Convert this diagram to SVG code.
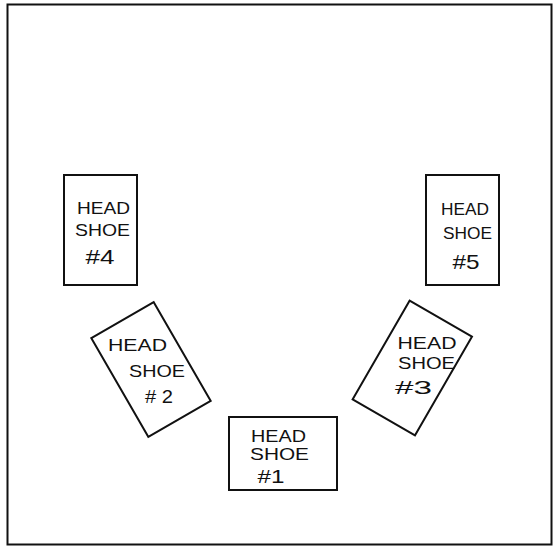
<svg xmlns="http://www.w3.org/2000/svg" width="556" height="550" viewBox="0 0 556 550">
<style>
.frame{fill:none;stroke:#111;stroke-width:2}
.box{fill:#fff;stroke:#111;stroke-width:2}
text{font-family:"Liberation Sans","DejaVu Sans",sans-serif;font-size:17px;fill:#111;text-anchor:middle}
.num{font-size:18px}
.big{font-size:21px}
</style>
<rect width="556" height="550" fill="#fff"/>
<rect class="frame" x="7.5" y="4.5" width="544" height="540"/>
<g id="shoe4">
<rect class="box" x="64" y="175" width="73" height="110"/>
<text x="103.5" y="214" textLength="53" lengthAdjust="spacingAndGlyphs">HEAD</text>
<text x="102.5" y="236" textLength="55" lengthAdjust="spacingAndGlyphs">SHOE</text>
<text class="big" x="100" y="264" textLength="29" lengthAdjust="spacingAndGlyphs">#4</text>
</g>
<g id="shoe5">
<rect class="box" x="426" y="175" width="73" height="110"/>
<text x="465" y="215" textLength="48" lengthAdjust="spacingAndGlyphs">HEAD</text>
<text x="467.5" y="239" textLength="49" lengthAdjust="spacingAndGlyphs">SHOE</text>
<text class="big" x="466" y="269" textLength="27" lengthAdjust="spacingAndGlyphs">#5</text>
</g>
<g id="shoe2">
<rect class="box" x="115" y="312.5" width="72" height="114" transform="rotate(-30 151 369.5)"/>
<text x="137.5" y="351" textLength="59" lengthAdjust="spacingAndGlyphs">HEAD</text>
<text x="157" y="377" textLength="56" lengthAdjust="spacingAndGlyphs">SHOE</text>
<text class="num" x="159" y="403" textLength="28" lengthAdjust="spacingAndGlyphs"># 2</text>
</g>
<g id="shoe3">
<rect class="box" x="376.3" y="311" width="72" height="114" transform="rotate(30 412.3 368)"/>
<text x="427" y="349" textLength="59" lengthAdjust="spacingAndGlyphs">HEAD</text>
<text x="426.5" y="369" textLength="57" lengthAdjust="spacingAndGlyphs">SHOE</text>
<text class="num" x="413.5" y="394" textLength="37" lengthAdjust="spacingAndGlyphs">#3</text>
</g>
<g id="shoe1">
<rect class="box" x="229" y="417" width="108" height="73"/>
<text x="278.5" y="442" textLength="55" lengthAdjust="spacingAndGlyphs">HEAD</text>
<text x="279.5" y="460" textLength="59" lengthAdjust="spacingAndGlyphs">SHOE</text>
<text class="num" x="271" y="483" textLength="27" lengthAdjust="spacingAndGlyphs">#1</text>
</g>
<g id="connectors"/>
</svg>
